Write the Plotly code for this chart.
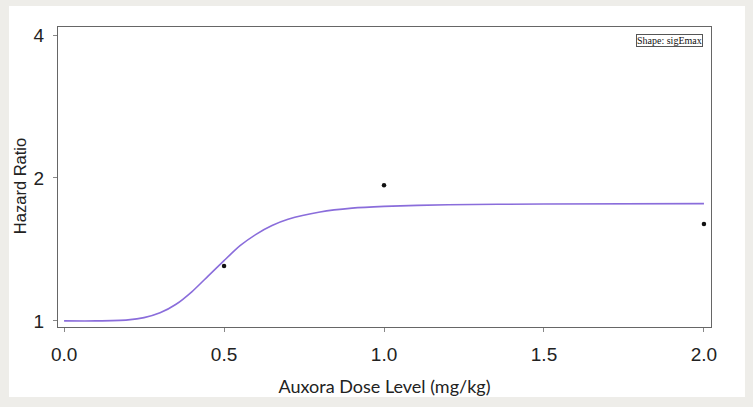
import plotly.graph_objects as go

# Observed data points
obs_dose = [0.5, 1.0, 2.0]
obs_hr = [1.305, 1.93, 1.60]

# Fitted sigEmax curve
curve_dose = [0.0, 0.1, 0.2, 0.25, 0.3, 0.35, 0.4, 0.45, 0.5, 0.55, 0.6, 0.65,
              0.7, 0.8, 0.9, 1.0, 1.2, 1.5, 2.0]
curve_hr = [1.000, 1.000, 1.005, 1.016, 1.040, 1.084, 1.153, 1.243, 1.340, 1.440,
            1.522, 1.588, 1.637, 1.696, 1.728, 1.743, 1.757, 1.763, 1.766]

x_ticks = [0.0, 0.5, 1.0, 1.5, 2.0]
x_tick_labels = ["0.0", "0.5", "1.0", "1.5", "2.0"]
y_ticks = [1, 2, 4]
y_tick_labels = ["1", "2", "4"]

fig = go.Figure()
fig.add_trace(go.Scatter(x=curve_dose, y=curve_hr, mode="lines",
                         line=dict(color="#8a6ddb", width=1.6, shape="spline", smoothing=0.6),
                         showlegend=False, hoverinfo="skip"))
fig.add_trace(go.Scatter(x=obs_dose, y=obs_hr, mode="markers",
                         marker=dict(color="#111111", size=4.5),
                         showlegend=False))

axis_font = dict(family="Liberation Sans, Arial, sans-serif", size=19, color="#222222")

fig.update_layout(
    width=753, height=407,
    margin=dict(l=58, r=42, t=27, b=80),
    paper_bgcolor="#eeede9",
    plot_bgcolor="white",
    xaxis=dict(range=[-0.019, 2.022], tickvals=x_ticks, ticktext=x_tick_labels,
               showgrid=False, zeroline=False, showline=True, linecolor="#666666",
               linewidth=1.2, mirror=True, ticks="outside", ticklen=4, tickcolor="#888888",
               tickfont=axis_font, ticklabelstandoff=6,
               title=dict(text="Auxora Dose Level (mg/kg)",
                          font=dict(family="Lato, sans-serif", size=18, color="#222222"),
                          standoff=16)),
    yaxis=dict(type="log", range=[-0.0128, 0.619], tickvals=y_ticks, ticktext=y_tick_labels,
               showgrid=False, zeroline=False, showline=True, linecolor="#666666",
               linewidth=1.2, mirror=True, ticks="outside", ticklen=4, tickcolor="#888888",
               tickfont=axis_font, ticklabelstandoff=5),
    shapes=[dict(type="rect", xref="paper", yref="paper",
                 x0=-0.075, x1=1.052, y0=-0.233, y1=1.07,
                 fillcolor="white", line=dict(width=0), layer="below")],
    annotations=[
        dict(text="Hazard Ratio", xref="paper", yref="paper",
             x=-0.058, y=0.47, xanchor="center", yanchor="middle", textangle=-90,
             showarrow=False,
             font=dict(family="Liberation Sans, Arial, sans-serif", size=16.5, color="#222222")),
        dict(text="Shape: sigEmax", xref="paper", yref="paper",
             x=0.988, y=0.976, xanchor="right", yanchor="top", showarrow=False,
             font=dict(family="Liberation Serif, Times New Roman, serif", size=10, color="#111111"),
             bordercolor="#555555", borderwidth=1, borderpad=0, bgcolor="white"),
    ],
)

fig.write_html("out.html")
